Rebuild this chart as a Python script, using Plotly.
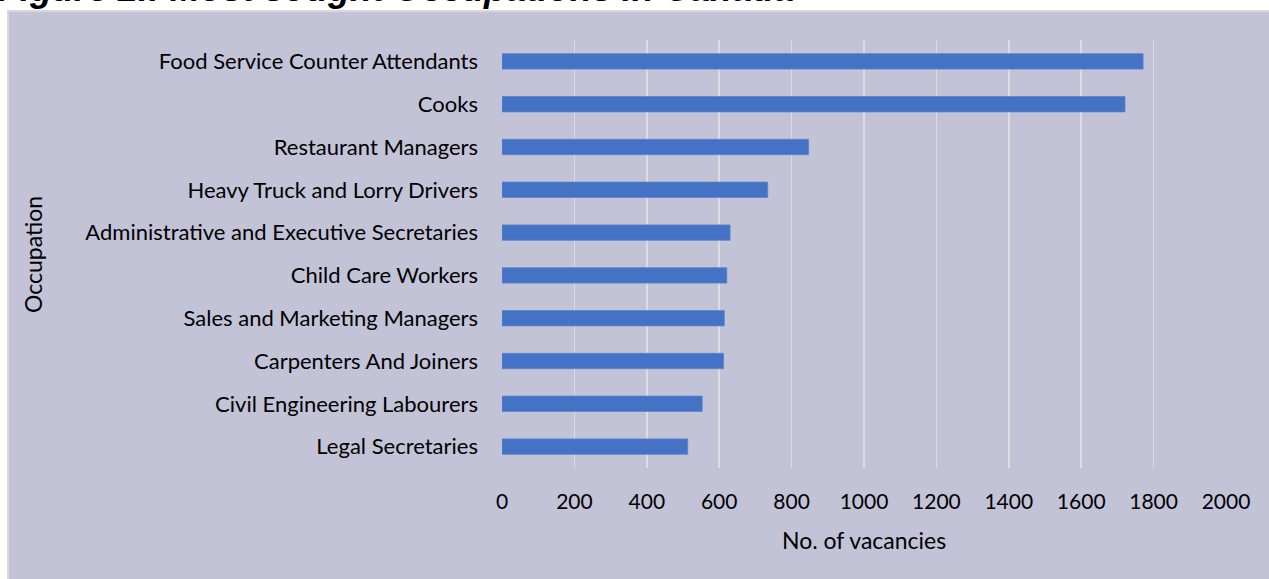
import plotly.graph_objects as go

occupations = [
    "Food Service Counter Attendants",
    "Cooks",
    "Restaurant Managers",
    "Heavy Truck and Lorry Drivers",
    "Administrative and Executive Secretaries",
    "Child Care Workers",
    "Sales and Marketing Managers",
    "Carpenters And Joiners",
    "Civil Engineering Labourers",
    "Legal Secretaries",
]
vacancies = [1771, 1721, 847, 734, 630, 621, 614, 612, 553, 513]
x_ticks = [0, 200, 400, 600, 800, 1000, 1200, 1400, 1600, 1800, 2000]

W, H = 1269, 579
L, R, T, B = 502, 1226, 40, 468

def px(p):
    return (p - L) / (R - L)

def py(p):
    return (B - p) / (B - T)

FONT = "Lato"
BG = "#C3C3D8"

fig = go.Figure(go.Bar(
    x=vacancies, y=occupations, orientation="h",
    marker=dict(color="#4472C4", line=dict(color="#5B84CC", width=0.8)),
    width=0.36,
))

fig.update_layout(
    width=W, height=H,
    margin=dict(l=L, r=W - R, t=T, b=H - B, pad=0),
    paper_bgcolor="white",
    plot_bgcolor="rgba(0,0,0,0)",
    showlegend=False,
    font=dict(family=FONT, size=22, color="black"),
    xaxis=dict(
        range=[0, 2000], tickvals=x_ticks, ticktext=[str(v) for v in x_ticks],
        showgrid=True, gridcolor="#DCDCE2", gridwidth=1.5, zeroline=False,
        showline=False, ticks="", ticklabelstandoff=19,
        tickfont=dict(family=FONT, size=21, color="black"), fixedrange=True,
    ),
    yaxis=dict(
        categoryorder="array", categoryarray=occupations[::-1],
        showgrid=False, zeroline=False, showline=False, ticks="",
        ticklabelstandoff=23,
        tickfont=dict(family=FONT, size=22, color="black"), fixedrange=True,
    ),
    shapes=[dict(
        type="rect", xref="paper", yref="paper", layer="below",
        x0=px(8), x1=px(1290), y0=py(600), y1=py(11),
        fillcolor=BG, line=dict(color="#D9D9D9", width=2),
    )],
    annotations=[
        dict(text="Occupation", xref="paper", yref="paper", x=px(33), y=py(255),
             xanchor="center", yanchor="middle", textangle=-90, showarrow=False,
             font=dict(family=FONT, size=23, color="black")),
        dict(text="No. of vacancies", xref="paper", yref="paper", x=px(864), y=py(540),
             xanchor="center", yanchor="middle", showarrow=False,
             font=dict(family=FONT, size=23, color="black")),
        dict(text="<b><i>Figure 2.: Most sought Occupations in Canada</i></b>",
             xref="paper", yref="paper", x=px(796), y=py(11),
             xanchor="right", yanchor="bottom", showarrow=False,
             font=dict(family="Liberation Sans", size=36, color="black")),
    ],
)

fig.write_html(
    "out.html",
    config={"displayModeBar": False, "staticPlot": True},
    post_script="document.body.style.margin='0';document.body.style.overflow='hidden';",
)
